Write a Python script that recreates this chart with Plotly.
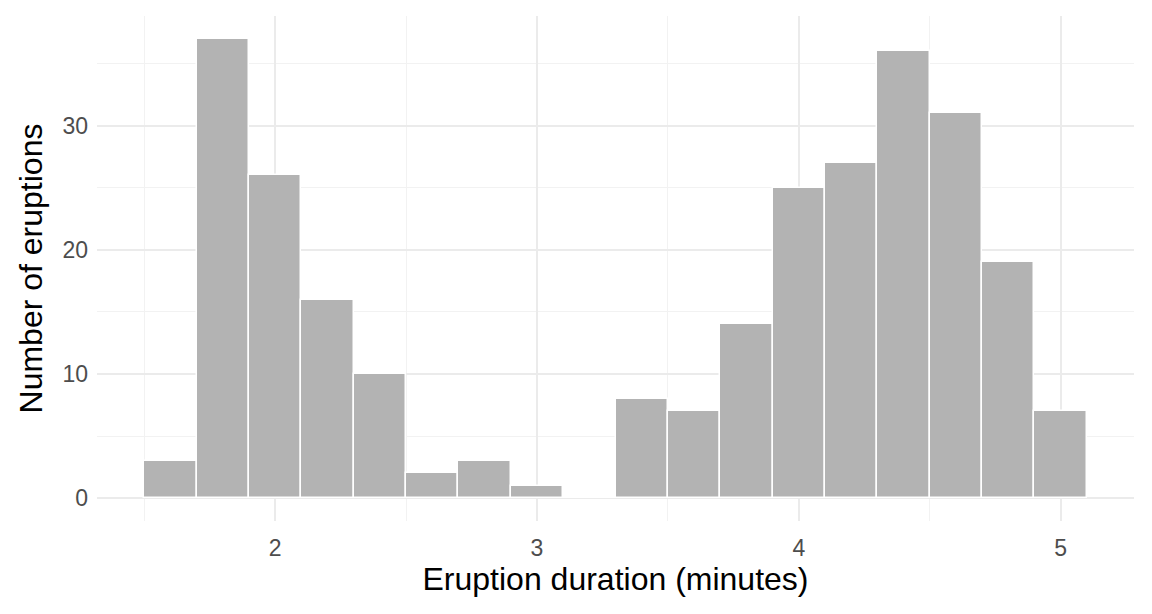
import plotly.graph_objects as go

# eruption duration bins (centres, width 0.2 min) and counts
bin_centres = [1.6, 1.8, 2.0, 2.2, 2.4, 2.6, 2.8, 3.0, 3.2,
               3.4, 3.6, 3.8, 4.0, 4.2, 4.4, 4.6, 4.8, 5.0]
counts = [3, 37, 26, 16, 10, 2, 3, 1, 0,
          8, 7, 14, 25, 27, 36, 31, 19, 7]
x_ticks = [2, 3, 4, 5]
y_ticks = [0, 10, 20, 30]

fig = go.Figure()
fig.add_trace(
    go.Bar(
        x=bin_centres,
        y=counts,
        width=0.2,
        marker=dict(color="#B3B3B3", line=dict(color="white", width=1.5)),
        hoverinfo="x+y",
    )
)

# page body adds an 8px offset, so margins are shifted by that much
fig.update_layout(
    width=1152,
    height=614,
    plot_bgcolor="white",
    paper_bgcolor="white",
    showlegend=False,
    bargap=0,
    margin=dict(l=89, r=26, t=8, b=101),
    font=dict(family="Liberation Sans, Arial, sans-serif"),
    xaxis=dict(
        range=[1.32, 5.28],
        tickvals=x_ticks,
        ticktext=[str(t) for t in x_ticks],
        showgrid=True,
        gridcolor="#EBEBEB",
        gridwidth=2,
        zeroline=False,
        showline=False,
        ticks="",
        tickfont=dict(size=23, color="#4D4D4D"),
        ticklabelstandoff=11,
        title=dict(text="Eruption duration (minutes)", font=dict(size=32, color="black"), standoff=4),
        minor=dict(tickvals=[1.5, 2.5, 3.5, 4.5], showgrid=True, gridcolor="#F2F2F2", gridwidth=1),
    ),
    yaxis=dict(
        range=[-1.85, 38.85],
        tickvals=y_ticks,
        ticktext=[str(t) for t in y_ticks],
        showgrid=True,
        gridcolor="#EBEBEB",
        gridwidth=2,
        zeroline=False,
        showline=False,
        ticks="",
        tickfont=dict(size=23, color="#4D4D4D"),
        ticklabelstandoff=8,
        title=dict(text="Number of eruptions", font=dict(size=32, color="black"), standoff=10),
        minor=dict(tickvals=[5, 15, 25, 35], showgrid=True, gridcolor="#F2F2F2", gridwidth=1),
    ),
)

fig.write_html("out.html")
